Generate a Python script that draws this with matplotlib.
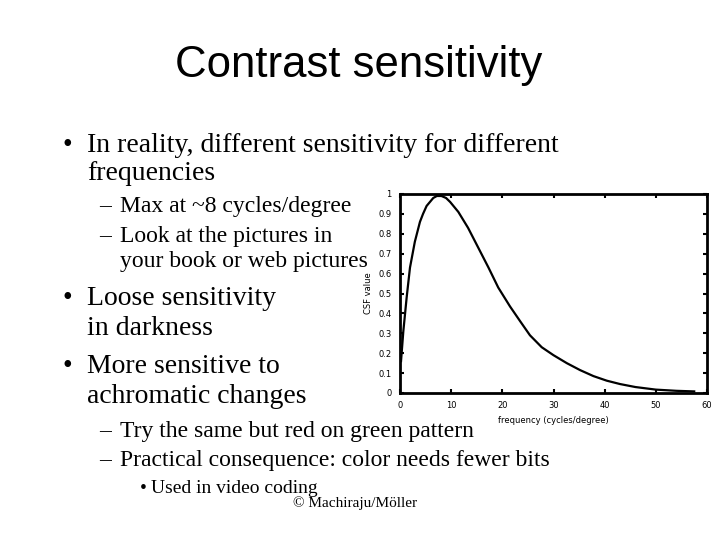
import matplotlib
matplotlib.use("Agg")
import matplotlib.pyplot as plt

# CSF curve
freq = [0.2, 0.65, 1.3, 1.95, 2.9, 3.9, 4.5, 5.2, 6.5, 7.2, 8.1, 9.0, 9.8,
        11.4, 13.3, 15.3, 17.3, 19.2, 21.5, 23.5, 25.4, 27.7, 30.0, 32.6,
        35.2, 37.8, 40.4, 43.0, 46.0, 50.0, 54.0, 57.5]
csf = [0.16, 0.31, 0.48, 0.63, 0.76, 0.86, 0.90, 0.94, 0.98, 0.99, 0.99,
       0.98, 0.96, 0.91, 0.83, 0.73, 0.63, 0.53, 0.435, 0.36, 0.29, 0.23,
       0.19, 0.15, 0.115, 0.085, 0.062, 0.045, 0.03, 0.017, 0.011, 0.008]
xticks = [0, 10, 20, 30, 40, 50, 60]
yticks = [0, 0.1, 0.2, 0.3, 0.4, 0.5, 0.6, 0.7, 0.8, 0.9, 1]

W, H = 720, 540
fig = plt.figure(figsize=(7.2, 5.4), dpi=100)


def put(x, y, s, size, family="Liberation Serif", **kw):
    fig.text(x / W, 1 - y / H, s, fontsize=size, family=family, va="baseline", **kw)


put(359, 77, "Contrast sensitivity", 31.5, family="Liberation Sans", ha="center")

# main bullets
put(62, 152, "\u2022", 20)
put(87, 152, "In reality, different sensitivity for different", 20)
put(87, 180, "frequencies", 20)
put(99, 212, "\u2013", 17)
put(120, 212, "Max at ~8 cycles/degree", 17)
put(99, 242, "\u2013", 17)
put(120, 242, "Look at the pictures in", 17)
put(120, 267, "your book or web pictures", 17)
put(62, 305, "\u2022", 20)
put(87, 305, "Loose sensitivity", 20)
put(87, 335, "in darkness", 20)
put(62, 373, "\u2022", 20)
put(87, 373, "More sensitive to", 20)
put(87, 403, "achromatic changes", 20)
put(99, 437, "\u2013", 17)
put(120, 437, "Try the same but red on green pattern", 17)
put(99, 466, "\u2013", 17)
put(120, 466, "Practical consequence: color needs fewer bits", 17)
put(140, 493, "\u2022", 14)
put(151, 493, "Used in video coding", 14)
put(293, 507, "\u00a9 Machiraju/M\u00f6ller", 11)

# embedded chart
ax = fig.add_axes([400 / W, 1 - 393 / H, 307 / W, 199 / H])
ax.plot(freq, csf, color="black", lw=1.6)
ax.set_xlim(0, 60)
ax.set_ylim(0, 1)
ax.set_xticks(xticks)
ax.set_yticks(yticks)
ax.set_yticklabels([f"{v:g}" for v in yticks])
ax.tick_params(direction="in", length=3, width=1.5, labelsize=6,
               top=True, right=True, pad=6)
for sp in ax.spines.values():
    sp.set_linewidth(2)
ax.set_xlabel("frequency (cycles/degree)", fontsize=6, labelpad=4)
ax.set_ylabel("CSF value", fontsize=6, labelpad=4)

fig.savefig("out.png", dpi=100)
